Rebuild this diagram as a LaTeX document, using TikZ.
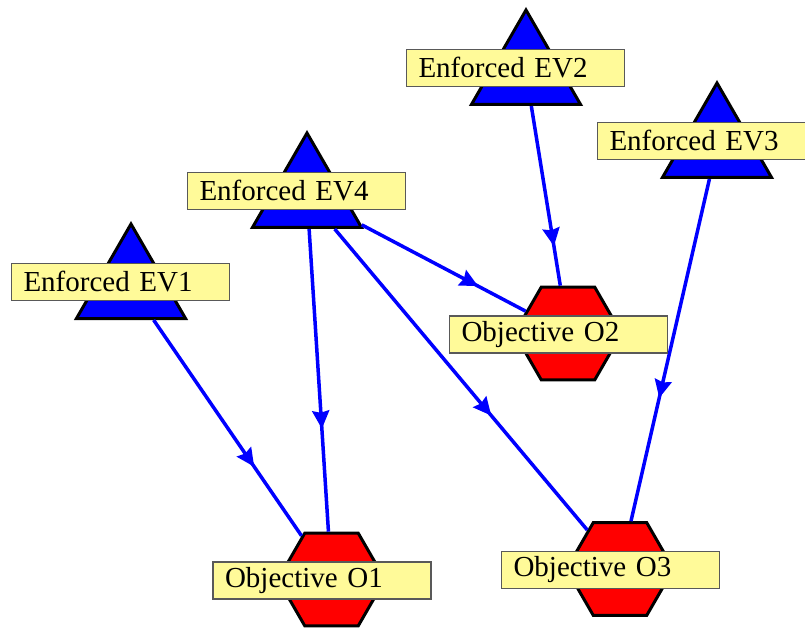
\documentclass[tikz,border=0pt]{standalone}
\usepackage{fontspec}
\setmainfont{Liberation Serif}
\usetikzlibrary{shapes.geometric,arrows.meta,decorations.markings}

\begin{document}
\begin{tikzpicture}[x=1pt,y=-1pt,
    ev node/.style={regular polygon,regular polygon sides=3,draw,line width=3pt,
                    fill=blue,minimum size=126pt,inner sep=0pt},
    obj node/.style={regular polygon,regular polygon sides=6,draw,line width=3pt,
                     fill=red,minimum size=107pt,inner sep=0pt},
    tag/.style={draw=black!65,line width=1.5pt,fill=yellow!40,text width=194pt,
                inner xsep=12pt,inner ysep=0pt,minimum height=37pt,align=left,
                font=\fontsize{29}{32}\selectfont},
    flow/.style={draw=blue,line width=3.5pt,
                 postaction={decorate,decoration={markings,
                   mark=at position #1 with {\arrow{Stealth[length=18pt,width=17pt,inset=2pt]}}}}}]

  \useasboundingbox (0,0) rectangle (805,628);

  % enforced values
  \node[ev node] (ev1) at (131,287) {};
  \node[ev node] (ev2) at (526,73) {};
  \node[ev node] (ev3) at (717,146) {};
  \node[ev node] (ev4) at (307,196) {};

  % objectives
  \node[obj node] (o1) at (331.5,579.5) {};
  \node[obj node] (o2) at (568,333.5) {};
  \node[obj node] (o3) at (620,569) {};

  \draw[flow=0.68] (ev1) -- (o1);
  \draw[flow=0.66] (ev4) -- (o1);
  \draw[flow=0.71] (ev4) -- (o2);
  \draw[flow=0.62] (ev4) -- (o3);
  \draw[flow=0.78] (ev2) -- (o2);
  \draw[flow=0.64] (ev3) -- (o3);

  % labels
  \node[tag] (ev1lbl) at ([shift={(-10.5,-5)}]ev1) {Enforced EV1};
  \node[tag] (ev2lbl) at ([shift={(-10.5,-5)}]ev2) {Enforced EV2};
  \node[tag] (ev3lbl) at ([shift={(-10.5,-5)}]ev3) {Enforced EV3};
  \node[tag] (ev4lbl) at ([shift={(-10.5,-5)}]ev4) {Enforced EV4};
  \node[tag] (o1lbl) at ([shift={(-9.5,1)}]o1) {Objective O1};
  \node[tag] (o2lbl) at ([shift={(-9.5,1)}]o2) {Objective O2};
  \node[tag] (o3lbl) at ([shift={(-9.5,1)}]o3) {Objective O3};
\end{tikzpicture}
\end{document}
